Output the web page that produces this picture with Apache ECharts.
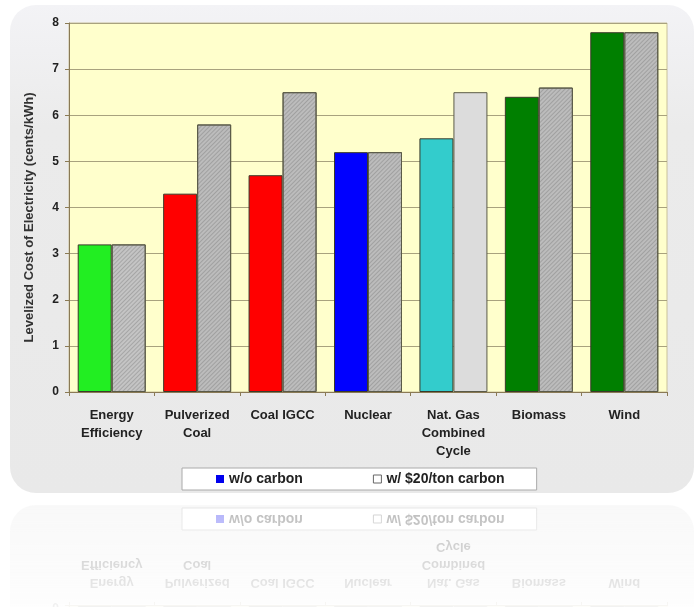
<!DOCTYPE html>
<html lang="en">
<head>
  <meta charset="UTF-8">
  <title>Levelized Cost of Electricity</title>
  <script src="https://cdn.jsdelivr.net/npm/echarts@6/dist/echarts.min.js"></script>
  <style>
    body { margin: 0; background: #fff; width: 698px; height: 607px; overflow: hidden; position: relative; }
    .panel {
      position: absolute; left: 10px; top: 5px; width: 684px; height: 488px;
      border-radius: 26px;
      background: linear-gradient(to bottom, #f3f3f6, #ebebeb 25%, #e9e9e9);
    }
    .scene { position: absolute; left: 0; top: 0; width: 698px; height: 499px; }
    .chart { position: absolute; left: 0; top: 0; width: 698px; height: 499px; }
    #reflect-wrap {
      position: absolute; left: 0; top: 499px; width: 698px; height: 108px; overflow: hidden;
      opacity: 0.32;
      -webkit-mask-image: linear-gradient(to bottom, rgba(0,0,0,1), rgba(0,0,0,0.2));
      mask-image: linear-gradient(to bottom, rgba(0,0,0,1), rgba(0,0,0,0.2));
    }
    #reflect-wrap .scene { transform: scaleY(-1); }
  </style>
</head>
<body>
  <div class="scene">
    <div class="panel"></div>
    <div id="chart" class="chart"></div>
  </div>
  <div id="reflect-wrap">
    <div class="scene">
      <div class="panel"></div>
      <div id="chart2" class="chart"></div>
    </div>
  </div>

  <script>
    // data
    const categories = ['Energy\nEfficiency', 'Pulverized\nCoal', 'Coal IGCC', 'Nuclear', 'Nat. Gas\nCombined\nCycle', 'Biomass', 'Wind'];
    const withoutCarbon = [3.2, 4.3, 4.7, 5.2, 5.5, 6.4, 7.8];
    const withCarbon = [3.2, 5.8, 6.5, 5.2, 6.5, 6.6, 7.8];
    const baseColors = ['#22ee22', '#ff0000', '#ff0000', '#0000ff', '#33cccc', '#007f00', '#007f00'];
    const carbonColors = ['#c4c4c4', '#bcbcbc', '#bcbcbc', '#bcbcbc', '#dcdcdc', '#bcbcbc', '#bcbcbc'];
    const carbonHatched = [true, true, true, true, false, true, true];
    const yTicks = { min: 0, max: 8, interval: 1 };

    const font = 'Liberation Sans, Arial, sans-serif';

    function hatch() {
      return {
        symbol: 'rect',
        symbolSize: 1,
        dashArrayX: [1, 0],
        dashArrayY: [1, 2],
        rotation: -Math.PI / 4,
        color: 'rgba(110,110,110,0.35)'
      };
    }

    function buildOption() {
      return {
        animation: false,
        textStyle: { fontFamily: font },
        grid: {
          left: 69, right: 31, top: 23, bottom: 107,
          show: true,
          backgroundColor: '#ffffcc',
          borderColor: '#c8c09a',
          borderWidth: 1
        },
        legend: {
          left: 182, top: 468,
          padding: [4, 32, 4, 34],
          itemGap: 70,
          itemWidth: 8, itemHeight: 8,
          backgroundColor: '#ffffff',
          borderColor: '#aaaaaa',
          borderWidth: 1,
          textStyle: { fontFamily: font, fontSize: 14, fontWeight: 'bold', color: '#222' },
          data: [
            { name: 'w/o carbon', icon: 'rect', itemStyle: { color: '#0000ee', borderWidth: 0 } },
            { name: 'w/ $20/ton carbon', icon: 'rect', itemStyle: { color: '#ffffff', borderColor: '#666', borderWidth: 1 } }
          ]
        },
        xAxis: {
          type: 'category',
          data: categories,
          axisLine: { lineStyle: { color: '#8a7a55', width: 1 } },
          axisTick: { show: true, length: 4, lineStyle: { color: '#8a7a55' } },
          axisLabel: {
            margin: 14, fontSize: 13, fontWeight: 'bold', color: '#222',
            lineHeight: 18, fontFamily: font, interval: 0
          }
        },
        yAxis: {
          type: 'value',
          min: yTicks.min, max: yTicks.max, interval: yTicks.interval,
          name: 'Levelized Cost of Electricity (cents/kWh)',
          nameLocation: 'middle',
          nameRotate: 90,
          nameGap: 33,
          nameTextStyle: { fontFamily: font, fontSize: 13, fontWeight: 'bold', color: '#333', padding: [0, 20, 0, 0] },
          axisLine: { show: true, lineStyle: { color: '#8a7a55', width: 1 } },
          axisTick: { show: true, length: 4, lineStyle: { color: '#8a7a55' } },
          axisLabel: { margin: 10, fontSize: 12, fontWeight: 'bold', color: '#222', fontFamily: font },
          splitLine: { lineStyle: { color: '#a8a27e', width: 1 } }
        },
        series: [
          {
            name: 'w/o carbon',
            type: 'bar',
            barWidth: 34,
            barGap: '0%',
            itemStyle: { color: '#0000ee', borderColor: '#3a3a2a', borderWidth: 1 },
            data: withoutCarbon.map((v, i) => ({ value: v, itemStyle: { color: baseColors[i] } }))
          },
          {
            name: 'w/ $20/ton carbon',
            type: 'bar',
            barWidth: 34,
            barGap: '0%',
            itemStyle: { color: '#ffffff', borderColor: '#5a5a48', borderWidth: 1 },
            data: withCarbon.map((v, i) => {
              const style = { color: carbonColors[i] };
              if (carbonHatched[i]) style.decal = hatch();
              return { value: v, itemStyle: style };
            })
          }
        ]
      };
    }

    const chart = echarts.init(document.getElementById('chart'), null, { renderer: 'canvas' });
    chart.setOption(buildOption());
    const chart2 = echarts.init(document.getElementById('chart2'), null, { renderer: 'canvas' });
    chart2.setOption(buildOption());
  </script>
</body>
</html>
